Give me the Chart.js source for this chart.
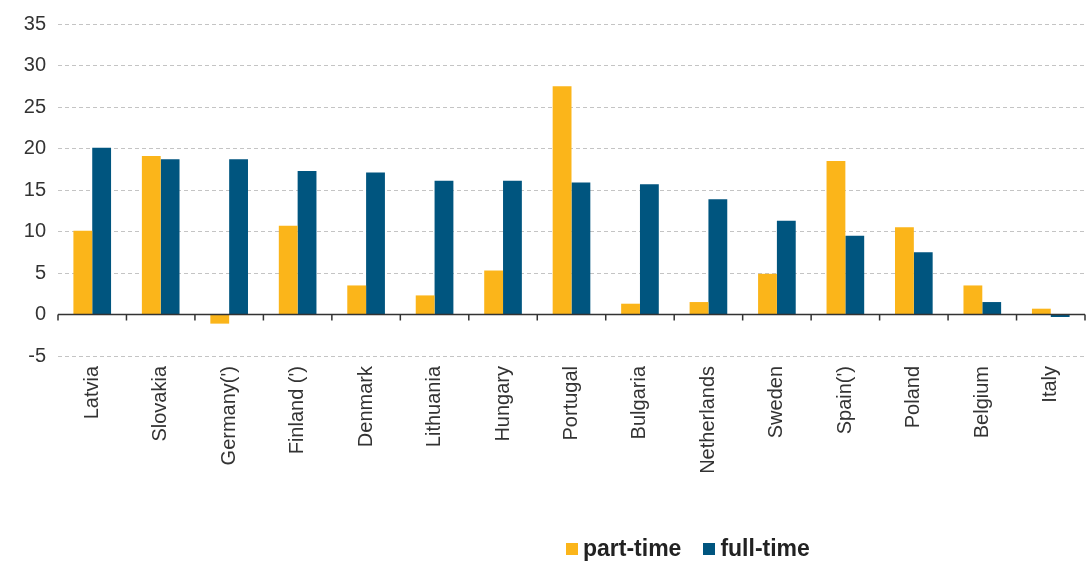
<!DOCTYPE html>
<html>
<head>
<meta charset="utf-8">
<script src="https://cdn.jsdelivr.net/npm/chart.js"></script>
<style>
  html, body { margin: 0; padding: 0; background: #fff; }
  #wrap { position: relative; width: 1086px; height: 562px; }
  #legend {
    position: absolute; left: 566px; top: 535px;
    font: bold 23px "Liberation Sans", Arial, sans-serif; color: #222;
    display: flex; align-items: center;
  }
  #legend span.box { display: inline-block; width: 12px; height: 12px; margin-right: 5px; }
  #legend span.item { display: inline-flex; align-items: center; margin-right: 22px; }
</style>
</head>
<body>
<div id="wrap">
  <canvas id="chart" width="1086" height="562"></canvas>
  <div id="legend"></div>
</div>
<script>
const countries = ["Latvia", "Slovakia", "Germany(')", "Finland (')", "Denmark", "Lithuania", "Hungary",
  "Portugal", "Bulgaria", "Netherlands", "Sweden", "Spain(')", "Poland", "Belgium", "Italy"];
const partTime = [10.1, 19.1, -1.1, 10.7, 3.5, 2.3, 5.3, 27.5, 1.3, 1.5, 4.9, 18.5, 10.5, 3.5, 0.7];
const fullTime = [20.1, 18.7, 18.7, 17.3, 17.1, 16.1, 16.1, 15.9, 15.7, 13.9, 11.3, 9.5, 7.5, 1.5, -0.3];
const yTicks = { min: -5, max: 35, step: 5 };

const YELLOW = "#FBB51A";
const BLUE = "#00557F";

// zero line with tick marks between categories
const zeroAxis = {
  id: "zeroAxis",
  afterDatasetsDraw(chart) {
    const { ctx, chartArea, scales } = chart;
    const y0 = scales.y.getPixelForValue(0);
    const n = countries.length;
    const step = (chartArea.right - chartArea.left) / n;
    ctx.save();
    ctx.strokeStyle = "#333";
    ctx.lineWidth = 1.5;
    ctx.beginPath();
    ctx.moveTo(chartArea.left, y0);
    ctx.lineTo(chartArea.right, y0);
    for (let i = 0; i <= n; i++) {
      const x = chartArea.left + i * step;
      ctx.moveTo(x, y0);
      ctx.lineTo(x, y0 + 6);
    }
    ctx.stroke();
    ctx.restore();
  }
};

new Chart(document.getElementById("chart"), {
  type: "bar",
  data: {
    labels: countries,
    datasets: [
      { label: "part-time", data: partTime, backgroundColor: YELLOW },
      { label: "full-time", data: fullTime, backgroundColor: BLUE }
    ]
  },
  options: {
    responsive: false,
    animation: false,
    layout: { padding: { top: 12, right: 1, left: 0, bottom: 0 } },
    datasets: { bar: { categoryPercentage: 0.55, barPercentage: 1 } },
    plugins: { legend: { display: false }, tooltip: { enabled: false } },
    scales: {
      x: {
        grid: { display: false },
        border: { display: false },
        ticks: {
          maxRotation: 90, minRotation: 90, padding: 2,
          color: "#333", font: { family: "Liberation Sans", size: 20 }
        },
        afterFit(scale) { scale.height = 206; }
      },
      y: {
        min: yTicks.min, max: yTicks.max,
        ticks: {
          stepSize: yTicks.step, padding: 12,
          color: "#333", font: { family: "Liberation Sans", size: 20 }
        },
        grid: { color: "#c4c4c4", lineWidth: 1, drawTicks: false, borderDash: [4, 3] },
        border: { display: false, dash: [4, 3] },
        afterFit(scale) { scale.width = 58; }
      }
    }
  },
  plugins: [zeroAxis]
});

const legend = document.getElementById("legend");
[["part-time", YELLOW], ["full-time", BLUE]].forEach(([name, col]) => {
  const item = document.createElement("span");
  item.className = "item";
  item.innerHTML = '<span class="box" style="background:' + col + '"></span>' + name;
  legend.appendChild(item);
});
</script>
</body>
</html>
